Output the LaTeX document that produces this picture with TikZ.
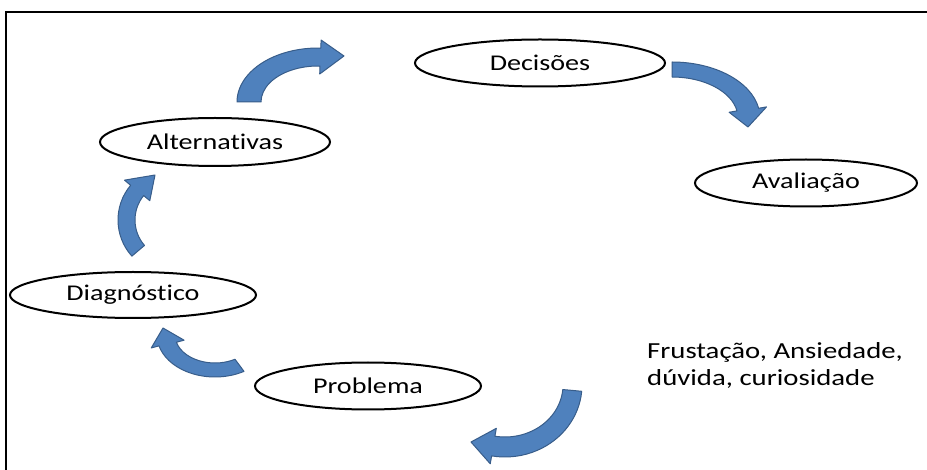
\documentclass[tikz,border=0pt]{standalone}
\usepackage{fontspec}
\setmainfont{Carlito}[FakeStretch=1.25, Ligatures=NoCommon]
\usetikzlibrary{shapes.geometric}

\definecolor{arrowblue}{HTML}{4F81BD}
\definecolor{arrowedge}{HTML}{385D8A}

\tikzset{
  stage/.style={ellipse, draw=black, line width=2pt, fill=white, inner sep=0pt,
                font=\fontsize{22.5}{26}\selectfont},
  blockarrow/.style={fill=arrowblue, draw=arrowedge, line width=1pt, line join=round},
  frameline/.style={draw=black, line width=1.6pt}
}

% Curved block arrow along an elliptic arc.
% #1,#2 centre; #3,#4 outer radii; #5,#6 inner radii;
% #7 start angle (tail); #8 end angle (head base); #9 tip point
\newcommand{\bentarrow}[9]{%
  \pgfmathsetmacro\bSx{#1+#3*cos(#7)}\pgfmathsetmacro\bSy{#2+#4*sin(#7)}%
  \pgfmathsetmacro\bAx{#1+(#3+8)*cos(#8)}\pgfmathsetmacro\bAy{#2+(#4+8)*sin(#8)}%
  \pgfmathsetmacro\bBx{#1+(#5-8)*cos(#8)}\pgfmathsetmacro\bBy{#2+(#6-8)*sin(#8)}%
  \pgfmathsetmacro\bCx{#1+#5*cos(#8)}\pgfmathsetmacro\bCy{#2+#6*sin(#8)}%
  \path[blockarrow] (\bSx,\bSy)
    arc[start angle=#7, end angle=#8, x radius=#3, y radius=#4]
    -- (\bAx,\bAy) -- (#9) -- (\bBx,\bBy) -- (\bCx,\bCy)
    arc[start angle=#8, end angle=#7, x radius=#5, y radius=#6]
    -- cycle;}

\begin{document}
\begin{tikzpicture}[x=1pt, y=-1pt]
  \useasboundingbox (0,0) rectangle (927,470);
  \fill[white] (0,0) rectangle (927,470);

  % outer frame (top and left edges)
  \draw[frameline] (6,471) -- (6,12) -- (928,12);

  % stages of the cycle
  \node[stage, minimum width=250pt, minimum height=47pt] (dec) at (540,63) {Decisões};
  \node[stage, minimum width=230pt, minimum height=48pt] (alt) at (215,142) {Alternativas};
  \node[stage, minimum width=222pt, minimum height=47pt] (ava) at (806,183) {Avaliação};
  \node[stage, minimum width=246pt, minimum height=46pt] (dia) at (133,295) {Diagnóstico};
  \node[stage, minimum width=226pt, minimum height=47pt] (pro) at (368,386) {Problema};

  % triggering feelings
  \node[font=\fontsize{23}{27}\selectfont, align=left, anchor=north west, inner sep=0pt]
    (feel) at (647,342) {Frustação, Ansiedade,\\dúvida, curiosidade};

  % curved block arrows of the cycle
  \bentarrow{505}{385}{77}{72}{58}{52}{5}{100}{471,442}   % feelings -> problema
  \bentarrow{215}{335}{58}{42}{40}{28}{60}{165}{163,328}  % problema -> diagnostico
  \bentarrow{172}{220}{54}{54}{37}{38}{138}{220}{155,175} % diagnostico -> alternativas
  \bentarrow{318}{102}{81}{54}{57}{36}{180}{272}{344,56}  % alternativas -> decisoes
  \bentarrow{672}{118}{88}{56}{66}{41}{270}{350}{748,127} % decisoes -> avaliacao
\end{tikzpicture}
\end{document}
